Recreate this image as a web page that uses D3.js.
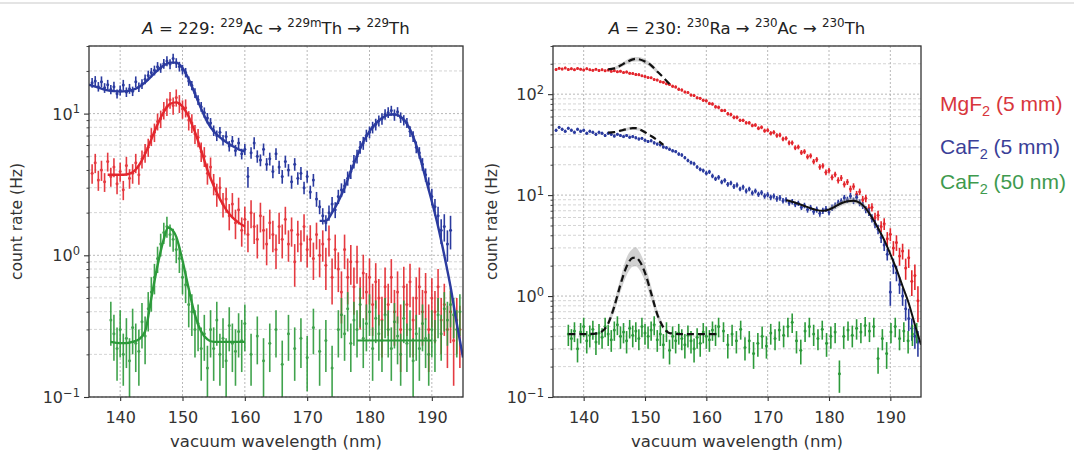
<!DOCTYPE html>
<html><head><meta charset="utf-8">
<script src="https://cdn.jsdelivr.net/npm/d3@7"></script>
<style>body{margin:0;background:#fff;}svg{display:block;}</style>
</head><body>
<svg id="c" width="1074" height="452"></svg>
<script>
// ---------------- DATA ----------------
const xTickValues = [140,150,160,170,180,190];
const legendLabels = [["MgF","2"," (5 mm)"],["CaF","2"," (5 mm)"],["CaF","2"," (50 nm)"]];

// A = 229 panel: [wavelength nm, count rate Hz, error Hz]
const a229_CaF2_5mm = [[135.5,16.5,1.3],[136,17,1.4],[136.5,15.5,1.2],[137,16.8,1.5],[137.5,15.2,1.2],[138,16,1.3],[138.5,14.8,1.1],[139,15.5,1.3],[139.5,13.8,1.0],[140,14.6,1.2],[140.5,15.9,1.4],[141,14.2,1.1],[141.5,15,1.2],[142,14.4,1.1],[142.5,16.8,1.5],[143,15.4,1.2],
[143.5,16.2,1.3],[144,17.5,1.4],[144.5,18.6,1.5],[145,19.5,1.5],[145.5,20.2,1.6],[146,21.4,1.7],[146.5,21,1.6],[147,22.5,1.8],[147.5,23.5,1.9],[148,22.4,1.8],[148.5,24.5,2.0],[149,22.8,1.8],[149.5,21.5,1.7],[150,20.5,1.6],
[150.5,19.5,1.5],[151,17,1.3],[151.5,15.8,1.2],[152,14,1.1],[152.5,12.5,1.0],[153,11.2,0.9],[153.5,10.2,0.85],[154,9.3,0.8],[154.5,8.6,0.7],[155,7.6,0.65],[155.5,7.0,0.6],[156,7.4,0.65],[156.5,6.5,0.55],[157,6.9,0.6],[157.5,5.9,0.5],[158,6.4,0.55],[158.5,5.5,0.5],[159,6.2,0.55],[159.5,5.2,0.45],[160,5.6,0.5],
[160.5,3.6,0.6],[161,5.3,0.5],[161.5,6.2,0.6],[162,5.0,0.5],[162.5,4.7,0.45],[163,5.6,0.55],[163.5,4.4,0.45],[164,4.8,0.5],[164.5,3.9,0.4],[165,5.2,0.5],[165.5,4.2,0.45],[166,3.6,0.4],[166.5,4.6,0.45],[167,4.0,0.4],[167.5,3.3,0.35],[168,4.4,0.45],[168.5,3.5,0.35],[169,3.8,0.4],[169.5,3.0,0.3],[170,3.6,0.35],[170.5,2.8,0.3],[171,3.4,0.35],[171.5,2.5,0.3],[172,2.2,0.25],
[172.5,1.9,0.25],[173,1.7,0.22],[173.5,2.0,0.25],[174,2.3,0.28],[174.5,2.1,0.27],[175,2.6,0.3],[175.5,2.9,0.32],[176,3.1,0.35],[176.5,3.5,0.4],[177,3.9,0.45],[177.5,4.6,0.5],[178,5.0,0.55],[178.5,5.8,0.6],[179,6.2,0.65],[179.5,7.0,0.7],[180,7.4,0.7],[180.5,8.0,0.75],[181,8.4,0.8],[181.5,8.9,0.8],[182,9.2,0.85],[182.5,9.9,0.85],[183,10.2,0.9],[183.5,10.5,0.85],[184,9.8,0.9],[184.5,10.3,0.8],[185,9.4,0.8],[185.5,9.0,0.75],[186,8.6,0.7],
[186.5,7.5,0.65],[187,6.9,0.6],[187.5,5.8,0.55],[188,5.3,0.5],[188.5,4.4,0.45],[189,3.7,0.4],[189.5,3.2,0.35],[190,2.6,0.35],[190.5,2.2,0.3],[191,1.9,0.3],[191.5,1.5,0.3],[192,1.6,0.35],[192.5,1.2,0.3],[193,1.5,0.4]];

const a229_MgF2_5mm = [[135.5,3.8,0.6],[136,4.5,0.7],[136.5,3.4,0.55],[137,4.0,0.65],[137.5,3.3,0.5],[138,4.6,0.7],[138.5,3.6,0.55],[139,4.2,0.65],[139.5,3.2,0.5],[140,3.9,0.6],[140.5,2.9,0.45],[141,4.3,0.65],[141.5,3.5,0.55],[142,3.8,0.6],[142.5,4.5,0.7],[143,3.7,0.55],
[143.5,4.8,0.7],[144,5.3,0.8],[144.5,5.8,0.85],[145,6.9,1.0],[145.5,7.4,1.1],[146,8.8,1.2],[146.5,9.2,1.3],[147,10.6,1.5],[147.5,11.2,1.6],[148,12.5,1.7],[148.5,11.4,1.6],[149,13,1.8],[149.5,11.8,1.7],[150,10.8,1.6],
[150.5,11,1.6],[151,9.0,1.4],[151.5,8.6,1.3],[152,7.2,1.1],[152.5,6.8,1.0],[153,5.4,0.85],[153.5,5.0,0.8],[154,3.8,0.65],[154.5,4.2,0.7],[155,3.2,0.55],[155.5,2.7,0.5],[156,3.0,0.55],[156.5,2.3,0.45],[157,2.5,0.5],[157.5,1.9,0.4],[158,2.3,0.45],[158.5,1.7,0.4],[159,2.1,0.45],[159.5,1.5,0.35],[160,1.8,0.4],
[160.5,1.4,0.35],[161,2.0,0.45],[161.5,1.6,0.4],[162,1.3,0.35],[162.5,1.9,0.45],[163,1.5,0.4],[163.5,1.2,0.35],[164,1.7,0.4],[164.5,1.4,0.35],[165,1.1,0.3],[165.5,1.6,0.4],[166,1.3,0.35],[166.5,1.8,0.4],[167,1.2,0.3],[167.5,1.5,0.35],[168,0.9,0.3],[168.5,1.4,0.35],[169,1.2,0.3],[169.5,1.6,0.35],[170,1.1,0.28],[170.5,1.3,0.33],[171,0.95,0.28],[171.5,1.4,0.3],[172,1.0,0.3],
[172.5,1.2,0.3],[173,0.85,0.28],[173.5,1.3,0.32],[174,0.7,0.25],[174.5,1.1,0.3],[175,0.8,0.25],[175.5,0.55,0.22],[176,1.1,0.3],[176.5,0.7,0.25],[177,0.9,0.28],[177.5,0.6,0.22],[178,0.9,0.27],[178.5,0.5,0.2],[179,0.75,0.26],[179.5,0.55,0.2],[180,0.7,0.25],[180.5,0.45,0.18],[181,0.65,0.23],[181.5,0.5,0.18],[182,0.35,0.16],[182.5,0.6,0.22],[183,0.45,0.18],[183.5,0.7,0.24],[184,0.4,0.17],[184.5,0.55,0.22],[185,0.3,0.15],[185.5,0.6,0.23],[186,0.45,0.18],
[186.5,0.65,0.22],[187,0.35,0.16],[187.5,0.5,0.2],[188,0.6,0.22],[188.5,0.4,0.17],[189,0.55,0.2],[189.5,0.3,0.15],[190,0.5,0.19],[190.5,0.4,0.16],[191,0.6,0.2],[191.5,0.35,0.15],[192,0.45,0.18],[192.5,0.3,0.14],[193,0.4,0.16],[193.5,0.25,0.13],[194,0.35,0.15],[194.5,0.3,0.14]];

const a229_CaF2_50nm = [[138.5,0.35,0.12],[139,0.28,0.1],[139.5,0.22,0.09],[140,0.3,0.11],[140.5,0.2,0.08],[141,0.26,0.1],[141.5,0.18,0.08],[142,0.31,0.11],[142.5,0.24,0.09],[143,0.21,0.09],[143.5,0.34,0.12],[144,0.27,0.1],[144.5,0.42,0.13],[145,0.55,0.15],[145.5,0.7,0.17],[146,0.95,0.2],[146.5,1.2,0.22],[147,1.45,0.25],[147.5,1.6,0.27],[148,1.4,0.25],[148.5,1.3,0.24],[149,1.1,0.22],[149.5,0.95,0.2],[150,0.7,0.17],[150.5,0.62,0.16],[151,0.45,0.14],[151.5,0.4,0.13],[152,0.3,0.11],[152.5,0.33,0.12],[153,0.22,0.09],[153.5,0.28,0.1],[154,0.16,0.07],[154.5,0.3,0.11],[155,0.22,0.09],[155.5,0.35,0.12],[156,0.2,0.08],[156.5,0.26,0.1],[157,0.18,0.08],[157.5,0.32,0.11],[158,0.24,0.09],[158.5,0.21,0.09],[159,0.29,0.1],[159.5,0.25,0.1],[160,0.33,0.12],
[161,0.2,0.08],[162,0.27,0.1],[163,0.18,0.08],[164,0.24,0.09],[165,0.3,0.11],[166,0.17,0.08],[167,0.28,0.1],[168,0.22,0.09],[169,0.26,0.1],[170,0.19,0.08],[171,0.31,0.11],[172,0.21,0.09],[173,0.25,0.1],[174,0.16,0.07],[175,0.3,0.11],
[175.5,0.38,0.12],[176,0.28,0.1],[176.5,0.42,0.13],[177,0.24,0.09],[177.5,0.35,0.12],[178,0.3,0.11],[178.5,0.45,0.14],[179,0.26,0.1],[179.5,0.33,0.12],[180,0.4,0.13],[180.5,0.22,0.09],[181,0.36,0.12],[181.5,0.28,0.1],[182,0.25,0.1],[182.5,0.38,0.12],[183,0.3,0.11],[183.5,0.22,0.09],[184,0.34,0.12],[184.5,0.27,0.1],[185,0.2,0.08],[185.5,0.36,0.12],[186,0.24,0.09],[186.5,0.3,0.11],[187,0.18,0.08],[187.5,0.28,0.1],[188,0.22,0.09],[188.5,0.33,0.12],[189,0.26,0.1],[189.5,0.2,0.08],[190,0.3,0.11],[190.5,0.25,0.1],[191,0.38,0.12],[191.5,0.28,0.1],[192,0.42,0.13],[192.5,0.35,0.12],[193,0.45,0.14],[193.5,0.38,0.12],[194,0.3,0.11],[194.5,0.4,0.13]];

// A = 229 fits: [wavelength, count rate]
const a229_fit_CaF2_5mm_low = [[135,16.0],[136,15.5],[137,15.0],[138,14.6],[139,14.4],[140,14.3],[141,14.4],[142,14.7],[143,15.4],[144,16.6],[145,18.3],[146,20.2],[147,21.9],[148,22.9],[149,22.9],[150,21.0],[151,17.5],[152,13.8],[153,10.8],[154,8.7],[155,7.5],[156,6.8],[157,6.3],[158,5.9],[159,5.6],[160,5.4]];
const a229_fit_CaF2_5mm_high = [[172,1.75],[173,1.75],[174,2.0],[175,2.4],[176,3.0],[177,3.9],[178,5.0],[179,6.3],[180,7.5],[181,8.5],[182,9.3],[183,9.8],[184,9.9],[185,9.5],[186,8.5],[187,6.9],[188,5.1],[189,3.5],[190,2.4],[191,1.6],[192,1.0],[193,0.6],[194,0.33],[195,0.19]];
const a229_fit_MgF2_5mm = [[138,3.7],[139,3.7],[140,3.7],[141,3.72],[142,3.85],[143,4.3],[144,5.2],[145,6.6],[146,8.4],[147,10.3],[148,11.7],[149,12.0],[150,11.2],[151,9.5],[152,7.4],[153,5.5],[154,4.0],[155,3.1],[156,2.5],[157,2.1],[158,1.85],[159,1.7],[160,1.6]];
const a229_fit_CaF2_50nm_low = [[138.5,0.245],[140,0.24],[141,0.24],[142,0.245],[143,0.255],[144,0.29],[145,0.5],[146,0.85],[147,1.3],[147.7,1.57],[148,1.55],[149,1.35],[150,0.92],[151,0.58],[152,0.38],[153,0.29],[154,0.255],[155,0.245],[160,0.245]];
const a229_fit_CaF2_50nm_high = [[178,0.25],[190,0.25]];

// A = 230 panel: [wavelength nm, count rate Hz, error Hz]
const a230_MgF2_5mm = [[135.5,176,5],[136,181,5],[136.5,178,5],[137,182,5],[137.5,176,5],[138,179,5],[138.5,175,5],[139,180,5],[139.5,177,5],[140,174,5],[140.5,179,5],[141,175,5],[141.5,173,5],[142,177,5],[142.5,172,5],[143,175,5],[143.5,171,5],[144,174,5],[144.5,169,5],[145,171,5],[145.5,167,5],[146,169,5],[146.5,164,5],[147,166,5],[147.5,161,5],[148,160,5],[148.5,157,5],[149,156,5],[149.5,152,4],[150,150,4],[150.5,146,4],[151,145,4],[151.5,140,4],[152,138,4],[152.5,133,4],[153,131,4],[153.5,127,4],[154,125,4],[154.5,120,4],[155,118,4],[155.5,112,4],[156,110,4],[156.5,105,3],[157,104,3],[157.5,98,3],[158,97,3],[158.5,92,3],[159,91,3],[159.5,87,3],[160,86,3],[160.5,81,3],[161,80,3],[161.5,75,3],[162,74,3],[162.5,69,2.5],[163,69,2.5],[163.5,64,2.5],[164,63,2.5],[164.5,59,2.5],[165,59,2.5],[165.5,55,2],[166,55,2],[166.5,52,2],[167,52,2],[167.5,49,2],[168,49.5,2],[168.5,46,2],[169,47,2],[169.5,43.5,2],[170,44,2],[170.5,41,2],[171,42,2],[171.5,39,2],[172,39.5,2],[172.5,36,1.8],[173,36.5,1.8],[173.5,33,1.8],[174,33,1.8],[174.5,29.5,1.6],[175,30,1.6],[175.5,26.5,1.5],[176,27,1.5],[176.5,24,1.4],[177,24.5,1.4],[177.5,21.5,1.3],[178,22.5,1.3],[178.5,19,1.2],[179,19.5,1.2],[179.5,16.8,1.1],[180,17.5,1.1],[180.5,15,1.0],[181,16,1.0],[181.5,14,1.0],[182,14.8,1.0],[182.5,12.8,0.9],[183,13.5,0.9],[183.5,11.5,0.9],[184,12.2,0.9],[184.5,10.2,0.8],[185,10.8,0.8],[185.5,9,0.8],[186,9.3,0.8],[186.5,7.4,0.7],[187,7.6,0.7],[187.5,6.0,0.7],[188,6.3,0.7],[188.5,4.9,0.6],[189,5.2,0.7],[189.5,3.7,0.6],[190,4.1,0.6],[190.5,3.0,0.5],[191,3.4,0.6],[191.5,2.5,0.5],[192,2.8,0.5],[192.5,1.9,0.45],[193,2.4,0.5],[193.5,1.4,0.4],[194,1.6,0.45],[194.5,0.9,0.35]];

const a230_CaF2_5mm = [[135.5,44,1.5],[136,47,1.5],[136.5,45,1.5],[137,43,1.5],[137.5,46,1.5],[138,44,1.5],[138.5,42,1.5],[139,45,1.5],[139.5,43,1.5],[140,44,1.5],[140.5,41,1.4],[141,43,1.4],[141.5,42,1.4],[142,40,1.4],[142.5,42,1.4],[143,41,1.4],[143.5,39,1.4],[144,41,1.4],[144.5,40,1.4],[145,38.5,1.3],[145.5,40,1.3],[146,39,1.3],[146.5,38,1.3],[147,39,1.3],[147.5,37.5,1.3],[148,38,1.3],[148.5,37,1.3],[149,36,1.2],[149.5,36.5,1.2],[150,35,1.2],[150.5,34,1.2],[151,34.5,1.2],[151.5,33,1.2],[152,32,1.1],[152.5,31.5,1.1],[153,30,1.1],[153.5,29.5,1.1],[154,28.5,1.0],[154.5,27.5,1.0],[155,27,1.0],[155.5,25.5,1.0],[156,25,1.0],[156.5,23.5,0.9],[157,22,0.9],[157.5,21,0.9],[158,20.5,0.9],[158.5,19,0.8],[159,18,0.8],[159.5,17.5,0.8],[160,16.5,0.8],[160.5,17,0.8],[161,15.5,0.8],[161.5,14.5,0.7],[162,15,0.8],[162.5,13.5,0.7],[163,14,0.7],[163.5,12.8,0.7],[164,13.2,0.7],[164.5,12.2,0.7],[165,12.6,0.7],[165.5,11.5,0.6],[166,12,0.7],[166.5,11,0.6],[167,11.5,0.6],[167.5,10.5,0.6],[168,11,0.6],[168.5,10.2,0.6],[169,10.6,0.6],[169.5,9.8,0.6],[170,10.1,0.6],[170.5,9.5,0.6],[171,9.8,0.6],[171.5,9.2,0.6],[172,9.4,0.6],[172.5,8.8,0.55],[173,9.0,0.55],[173.5,8.4,0.55],[174,8.6,0.55],[174.5,8.1,0.5],[175,8.3,0.5],[175.5,7.6,0.5],[176,7.9,0.5],[176.5,7.2,0.5],[177,7.5,0.5],[177.5,6.9,0.5],[178,7.2,0.5],[178.5,6.6,0.5],[179,7.0,0.5],[179.5,7.3,0.5],[180,6.8,0.5],[180.5,7.5,0.55],[181,7.9,0.55],[181.5,8.4,0.6],[182,8.7,0.6],[182.5,9.4,0.65],[183,9.0,0.65],[183.5,9.8,0.7],[184,8.8,0.65],[184.5,9.5,0.7],[185,8.4,0.65],[185.5,7.9,0.6],[186,7.2,0.6],[186.5,6.8,0.6],[187,5.9,0.55],[187.5,5.2,0.5],[188,4.6,0.5],[188.5,3.8,0.45],[189,3.2,0.4],[189.5,2.6,0.35],[190,1.1,0.3],[190.5,2.0,0.35],[191,1.7,0.3],[191.5,1.3,0.25],[192,1.0,0.2],[192.5,0.75,0.18],[193,0.6,0.15],[193.5,0.48,0.12],[194,0.4,0.1],[194.5,0.35,0.1]];

const a230_CaF2_50nm = [[137.5,0.42,0.1],[138,0.38,0.09],[138.5,0.45,0.1],[139,0.3,0.08],[139.5,0.44,0.1],[140,0.5,0.11],[140.5,0.36,0.09],[141,0.41,0.1],[141.5,0.47,0.1],[142,0.35,0.09],[142.5,0.43,0.1],[143,0.39,0.09],[143.5,0.5,0.11],[144,0.42,0.1],[144.5,0.37,0.09],[145,0.46,0.1],[145.5,0.52,0.11],[146,0.4,0.1],[146.5,0.44,0.1],[147,0.36,0.09],[147.5,0.48,0.1],[148,0.41,0.1],[148.5,0.45,0.1],[149,0.38,0.09],[149.5,0.5,0.11],[150,0.43,0.1],[150.5,0.4,0.1],[151,0.46,0.1],[151.5,0.52,0.11],[152,0.37,0.09],[152.5,0.42,0.1],[153,0.33,0.09],[153.5,0.45,0.1],[154,0.29,0.08],[154.5,0.4,0.1],[155,0.36,0.09],[155.5,0.43,0.1],[156,0.38,0.09],[156.5,0.33,0.09],[157,0.41,0.1],[157.5,0.36,0.09],[158,0.3,0.08],[158.5,0.39,0.09],[159,0.34,0.09],[159.5,0.44,0.1],[160,0.4,0.1],[160.5,0.37,0.09],[161,0.46,0.1],[161.5,0.42,0.1],[162,0.5,0.11],
[162.8,0.45,0.1],[163.5,0.33,0.09],[164.2,0.42,0.1],[164.9,0.36,0.09],[165.6,0.47,0.1],[166.3,0.31,0.08],[167,0.36,0.09],[167.7,0.27,0.08],[168.4,0.34,0.09],[169.1,0.4,0.1],[169.8,0.32,0.08],[170.5,0.43,0.1],[171.2,0.38,0.09],[171.9,0.46,0.1],[172.6,0.41,0.1],[173.3,0.5,0.11],[174,0.55,0.12],[174.7,0.36,0.09],[175.4,0.29,0.08],[176.1,0.45,0.1],[176.8,0.5,0.11],[177.5,0.42,0.1],[178.2,0.38,0.09],[178.9,0.47,0.1],[179.6,0.34,0.09],[180.3,0.4,0.1],[181,0.44,0.1],[181.7,0.17,0.06],[182.4,0.4,0.1],[183.1,0.46,0.1],[183.8,0.41,0.1],[184.5,0.48,0.11],[185.2,0.44,0.1],[185.9,0.51,0.11],[186.6,0.45,0.1],[187.3,0.5,0.11],[188,0.24,0.07],[188.7,0.38,0.09],[189.4,0.27,0.08],[190.1,0.44,0.1],[190.8,0.5,0.11],[191.5,0.38,0.09],[192.2,0.45,0.1],[192.9,0.36,0.09],[193.6,0.42,0.1],[194.3,0.44,0.1]];

// A = 230 fits
const a230_fit_CaF2_5mm = [[173,8.9],[174,8.6],[175,8.2],[176,7.8],[177,7.4],[178,7.1],[179,7.0],[180,7.2],[181,7.7],[182,8.3],[183,8.7],[184,8.8],[185,8.4],[186,7.4],[187,6.0],[188,4.7],[189,3.6],[190,2.6],[191,1.85],[192,1.25],[193,0.85],[194,0.52],[195,0.33]];
const a230_dash_MgF2_5mm = [[144,176],[145,180],[146,192],[147,208],[148,221],[148.5,224],[149,222],[150,211],[151,193],[152,168],[153,146],[154,126]];
const a230_dash_CaF2_5mm = [[144,41.5],[145,42],[146,43.5],[147,45],[148,46],[148.5,46],[149,45],[150,42],[151,38.5],[152,35],[153,31.5]];
const a230_dash_CaF2_50nm = [[137.5,0.42],[140,0.42],[142,0.425],[143,0.446],[144,0.535],[145,0.79],[146,1.3],[147,1.96],[148,2.39],[148.5,2.41],[149,2.27],[150,1.7],[151,1.07],[152,0.66],[153,0.49],[154,0.43],[156,0.42],[162,0.42]];
// uncertainty bands: [wavelength, low, high]
const a230_band_MgF2_5mm = [[145,175,186],[146,184,200],[147,198,218],[148,210,232],[149,211,233],[150,200,222],[151,183,203],[152,160,176]];
const a230_band_CaF2_5mm = [[146,42,45],[147,43.5,46.5],[148,44.5,47.5],[149,43.5,46.5],[150,40.5,43.5]];
const a230_band_CaF2_50nm = [[144,0.5,0.57],[145,0.7,0.9],[146,1.1,1.5],[147,1.6,2.4],[148,1.95,2.95],[148.5,1.97,3.05],[149,1.85,2.8],[150,1.4,2.05],[151,0.92,1.25],[152,0.6,0.73],[153,0.46,0.52]];
const a230_band_fit = [[180,6.8,7.6],[181,7.2,8.2],[182,7.8,8.8],[183,8.2,9.3],[184,8.3,9.4],[185,7.9,8.9],[186,7.0,7.8],[187,5.7,6.3]];

// ---------------- DRAWING ----------------
const cRed = '#e3262d', cBlue = '#2b3b9f', cGreen = '#2c9a3a';
const legendColors = ['#d8363c','#3b3f98','#3e9a4e'];
const FONT = 'DejaVu Sans, sans-serif';
const svg = d3.select('#c');
svg.append('rect').attr('x',0).attr('y',2).attr('width',1074).attr('height',2).attr('fill','#e4e4e4');

function addSup(t, parts, size) {
  let up = false;
  parts.forEach(([txt, kind]) => {
    const ts = t.append('tspan').text(txt);
    if (kind === 'sup') {
      ts.attr('font-size', size*0.72);
      if (!up) { ts.attr('dy', -size*0.4); up = true; }
    } else {
      if (up) { ts.attr('dy', size*0.4); up = false; }
      if (kind === 'it') ts.attr('font-style','italic');
    }
  });
}

function panel(cfg) {
  const {id, left, right, top, bottom, yDomain, yMajor, yExp} = cfg;
  const x = d3.scaleLinear().domain([135,195]).range([left,right]);
  const y = d3.scaleLog().domain(yDomain).range([bottom,top]);
  const g = svg.append('g');
  svg.append('clipPath').attr('id','clip'+id).append('rect')
    .attr('x',left).attr('y',top).attr('width',right-left).attr('height',bottom-top);

  const minor = y.ticks().filter(v => !yMajor.some(m => Math.abs(m-v)/m < 1e-6));
  const grid = g.append('g');
  grid.selectAll('.mn').data(minor).join('line')
    .attr('x1',left).attr('x2',right).attr('y1',d=>y(d)).attr('y2',d=>y(d))
    .attr('stroke','#c9c9c9').attr('stroke-width',0.8).attr('stroke-dasharray','3,2');
  grid.selectAll('.mj').data(yMajor).join('line')
    .attr('x1',left).attr('x2',right).attr('y1',d=>y(d)).attr('y2',d=>y(d))
    .attr('stroke','#b0b0b0').attr('stroke-width',0.9).attr('stroke-dasharray','2,2');
  grid.selectAll('.vx').data(xTickValues).join('line')
    .attr('x1',d=>x(d)).attr('x2',d=>x(d)).attr('y1',top).attr('y2',bottom)
    .attr('stroke','#b0b0b0').attr('stroke-width',0.9).attr('stroke-dasharray','2,2');

  const dg = g.append('g').attr('clip-path','url(#clip'+id+')');
  cfg.series.forEach(s => {
    const sg = dg.append('g').attr('opacity', s.op || 1);
    sg.selectAll('line').data(s.data).join('line')
      .attr('x1',d=>x(d[0])).attr('x2',d=>x(d[0]))
      .attr('y1',d=>y(Math.max(d[1]-d[2], yDomain[0]*0.5)))
      .attr('y2',d=>y(d[1]+d[2]))
      .attr('stroke',s.color).attr('stroke-width',1.6);
    sg.selectAll('circle').data(s.data).join('circle')
      .attr('cx',d=>x(d[0])).attr('cy',d=>y(d[1])).attr('r',1.5).attr('fill',s.color);
  });
  (cfg.bands||[]).forEach(b => {
    dg.append('path').datum(b).attr('fill','#9a9a9a').attr('opacity',0.45)
      .attr('d', d3.area().x(d=>x(d[0])).y0(d=>y(d[1])).y1(d=>y(d[2])).curve(d3.curveMonotoneX));
  });
  (cfg.fits||[]).forEach(f => {
    dg.append('path').datum(f.data).attr('fill','none').attr('stroke',f.color)
      .attr('stroke-width',f.w||2.4).attr('stroke-dasharray',f.dash||null)
      .attr('d', d3.line().x(d=>x(d[0])).y(d=>y(d[1])).curve(d3.curveMonotoneX));
  });

  g.append('rect').attr('x',left).attr('y',top).attr('width',right-left).attr('height',bottom-top)
    .attr('fill','none').attr('stroke','#333').attr('stroke-width',1.3);

  const xa = g.append('g').attr('transform',`translate(0,${bottom})`)
    .call(d3.axisBottom(x).tickValues(xTickValues).tickSize(4).tickPadding(11).tickSizeOuter(0));
  xa.select('.domain').remove();
  xa.selectAll('line').attr('stroke','#333').attr('stroke-width',1.1);
  xa.selectAll('text').attr('font-family',FONT).attr('font-size',16).attr('fill','#333');

  const ya = g.append('g').attr('transform',`translate(${left},0)`)
    .call(d3.axisLeft(y).tickValues(yMajor).tickSize(5).tickFormat(''));
  ya.select('.domain').remove();
  ya.selectAll('line').attr('stroke','#333').attr('stroke-width',1.1);
  const ym = g.append('g').attr('transform',`translate(${left},0)`)
    .call(d3.axisLeft(y).tickValues(minor).tickSize(2.5).tickFormat(''));
  ym.select('.domain').remove();
  ym.selectAll('line').attr('stroke','#333').attr('stroke-width',0.9);
  yMajor.forEach((v,i) => {
    const t = g.append('text').attr('x',left-9).attr('y',y(v)+6).attr('text-anchor','end')
      .attr('font-family',FONT).attr('font-size',16).attr('fill','#333');
    addSup(t, [['10','n'],[yExp[i],'sup']], 16);
  });

  g.append('text').attr('transform',`translate(${cfg.ylabX},${(top+bottom)/2}) rotate(-90)`)
    .attr('text-anchor','middle').attr('font-family',FONT).attr('font-size',15.5).attr('fill','#333')
    .text('count rate (Hz)');
  g.append('text').attr('x',(left+right)/2).attr('y',447).attr('text-anchor','middle')
    .attr('font-family',FONT).attr('font-size',16.5).attr('fill','#333').text('vacuum wavelength (nm)');
  const tt = g.append('text').attr('x',(left+right)/2).attr('y',34).attr('text-anchor','middle')
    .attr('font-family',FONT).attr('font-size',16.5).attr('fill','#222').style('white-space','pre');
  addSup(tt, cfg.title, 16.5);
}

panel({
  id:'L', left:89, right:463, top:46, bottom:397, yDomain:[0.1,30], yMajor:[0.1,1,10], yExp:['−1','0','1'], ylabX:22,
  title:[['A','it'],[' = 229: ','n'],['229','sup'],['Ac → ','n'],['229m','sup'],['Th → ','n'],['229','sup'],['Th','n']],
  series:[
    {data:a229_CaF2_5mm, color:cBlue},
    {data:a229_MgF2_5mm, color:cRed, op:0.9},
    {data:a229_CaF2_50nm, color:cGreen, op:0.9}
  ],
  fits:[
    {data:a229_fit_CaF2_50nm_high, color:cGreen, w:2},
    {data:a229_fit_CaF2_50nm_low, color:cGreen},
    {data:a229_fit_MgF2_5mm, color:cRed},
    {data:a229_fit_CaF2_5mm_low, color:cBlue},
    {data:a229_fit_CaF2_5mm_high, color:cBlue}
  ]
});

panel({
  id:'R', left:553, right:921, top:46, bottom:397, yDomain:[0.1,300], yMajor:[0.1,1,10,100], yExp:['−1','0','1','2'], ylabX:497,
  title:[['A','it'],[' = 230: ','n'],['230','sup'],['Ra → ','n'],['230','sup'],['Ac → ','n'],['230','sup'],['Th','n']],
  series:[
    {data:a230_MgF2_5mm, color:cRed},
    {data:a230_CaF2_5mm, color:cBlue},
    {data:a230_CaF2_50nm, color:cGreen}
  ],
  bands:[a230_band_MgF2_5mm, a230_band_CaF2_5mm, a230_band_CaF2_50nm, a230_band_fit],
  fits:[
    {data:a230_dash_MgF2_5mm, color:'#111', w:2.2, dash:'7,4'},
    {data:a230_dash_CaF2_5mm, color:'#111', w:2.2, dash:'7,4'},
    {data:a230_dash_CaF2_50nm, color:'#111', w:2.2, dash:'7,4'},
    {data:a230_fit_CaF2_5mm, color:'#111', w:2}
  ]
});

const legY = [111, 154, 189];
legendLabels.forEach((lab,i) => {
  const t = svg.append('text').attr('x',940).attr('y',legY[i])
    .attr('font-family','Liberation Sans, Arial, sans-serif').attr('font-size',21).attr('fill',legendColors[i]);
  t.append('tspan').text(lab[0]);
  t.append('tspan').attr('font-size',14.5).attr('dy',5).text(lab[1]);
  t.append('tspan').attr('dy',-5).text(lab[2]);
});
</script>
</body></html>
